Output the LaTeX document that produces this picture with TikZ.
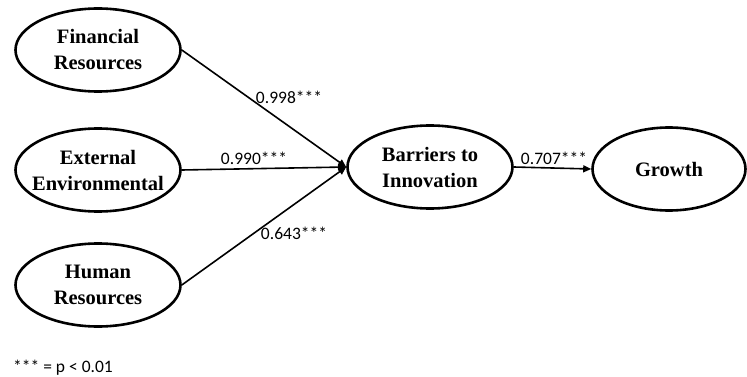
\documentclass[tikz,border=0pt]{standalone}
\usepackage{fontspec}
\setmainfont{Liberation Serif}
\newfontfamily\lblfont{Carlito}
\usetikzlibrary{shapes.geometric,arrows.meta}
\begin{document}
\begin{tikzpicture}[x=1pt,y=-1pt,
  construct/.style={draw, ellipse, line width=2.6pt, minimum width=165pt, minimum height=83pt, inner sep=0pt},
  ctext/.style={align=center, inner sep=0pt, font=\fontsize{20.5}{26}\selectfont\bfseries},
  path/.style={line width=1.6pt, -{Triangle[length=8pt,width=7pt]}},
  coef/.style={font=\lblfont\fontsize{17.5}{20}\selectfont, inner sep=0pt}]
\useasboundingbox (0,0) rectangle (747,377);
\node[construct] (fin) at (98,50) {};
\node[construct] (ext) at (98,170) {};
\node[construct] (hum) at (98,285) {};
\node[construct] (bar) at (430,167) {};
\node[construct, minimum width=153pt] (gro) at (669,169) {};
\node[ctext] (fint) at (fin) {Financial\\Resources};
\node[ctext] (extt) at (ext) {External\\Environmental};
\node[ctext] (humt) at (hum) {Human\\Resources};
\node[ctext] (bart) at (bar) {Barriers to\\Innovation};
\node[ctext] (grot) at (gro) {Growth};
\draw[path] (fin.east) -- (bar.west);
\draw[path] (ext.east) -- (bar.west);
\draw[path] (hum.east) -- (bar.west);
\draw[path] (bar.east) -- (gro.west);
\node[coef] (c1) at (289,97) {0.998***};
\node[coef] (c2) at (254,158) {0.990***};
\node[coef] (c3) at (294,233) {0.643***};
\node[coef] (c4) at (554,158) {0.707***};
\node[coef, anchor=west] (note) at (13,368) {*** = p < 0.01};
\end{tikzpicture}
\end{document}
